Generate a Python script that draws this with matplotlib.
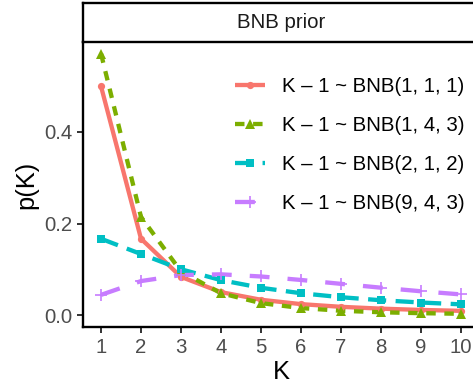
import matplotlib
matplotlib.use("Agg")
import matplotlib.pyplot as plt
from matplotlib.lines import Line2D

plt.rcParams['font.family'] = ['Liberation Sans', 'DejaVu Sans']

K = [1, 2, 3, 4, 5, 6, 7, 8, 9, 10]
labels = ["K \u2013 1 ~ BNB(1, 1, 1)", "K \u2013 1 ~ BNB(1, 4, 3)",
          "K \u2013 1 ~ BNB(2, 1, 2)", "K \u2013 1 ~ BNB(9, 4, 3)"]
p_111 = [0.5000, 0.1667, 0.0833, 0.0500, 0.0333, 0.0238, 0.0179, 0.0139, 0.0111, 0.0091]
p_143 = [0.5714, 0.2143, 0.0952, 0.0476, 0.0260, 0.0152, 0.0093, 0.0060, 0.0040, 0.0027]
p_212 = [0.1667, 0.1333, 0.1000, 0.0762, 0.0595, 0.0476, 0.0389, 0.0323, 0.0273, 0.0233]
p_943 = [0.0440, 0.0742, 0.0873, 0.0889, 0.0842, 0.0766, 0.0681, 0.0597, 0.0519, 0.0450]
series = [p_111, p_143, p_212, p_943]
x_ticks = [1, 2, 3, 4, 5, 6, 7, 8, 9, 10]
y_ticks = [0.0, 0.2, 0.4]
y_ticklabels = ["0.0", "0.2", "0.4"]
strip_title = "BNB prior"

colors = ["#F8766D", "#7CAE00", "#00BFC4", "#C77CFF"]
dashes = [(None, None), (2.2, 2.0), (4.2, 2.2), (4.6, 4.2)]
markers = ["o", "^", "s", "+"]
msizes = [5.2, 6.5, 5.2, 8.5]
lw = 3.1

W, H = 473, 389
fig = plt.figure(figsize=(W / 100, H / 100), dpi=100)
ax = fig.add_axes([83 / W, 62 / H, (479 - 83) / W, (327 - 42) / H])

for ys, c, d, m, ms in zip(series, colors, dashes, markers, msizes):
    ln, = ax.plot(K, ys, color=c, lw=lw, solid_capstyle='butt', dash_capstyle='butt')
    if d[0] is not None:
        ln.set_dashes(d)
for ys, c, m, ms in zip(series, colors, markers, msizes):
    ax.plot(K, ys, linestyle='none', marker=m, color=c, markersize=ms,
            markeredgewidth=1.2 if m == '+' else 0)

ax.set_xlim(0.55, 10.45)
ax.set_ylim(-0.0262, 0.5967)
ax.set_xticks(x_ticks)
ax.set_xticklabels([str(k) for k in x_ticks])
ax.set_yticks(y_ticks)
ax.set_yticklabels(y_ticklabels)
for s in ['top', 'right']:
    ax.spines[s].set_visible(False)
for s in ['left', 'bottom']:
    ax.spines[s].set_linewidth(1.7)
    ax.spines[s].set_color('black')
ax.tick_params(axis='both', length=4.3, width=1.4, color='#333333',
               labelsize=14.7, labelcolor='#4D4D4D', pad=3.5)
ax.set_xlabel("K", fontsize=18.4, color='black', labelpad=2)
ax.set_ylabel("p(K)", fontsize=18.4, color='black', labelpad=4)

handles = []
for c, d, m, ms in zip(colors, dashes, markers, msizes):
    h = Line2D([], [], color=c, lw=lw, marker=m, markersize=ms,
               markeredgewidth=1.2 if m == '+' else 0, solid_capstyle='butt',
               dash_capstyle='butt')
    if d[0] is not None:
        h.set_dashes(d)
    handles.append(h)
fig.legend(handles, labels, loc='upper left', bbox_to_anchor=(235 / W, 1 - 77 / H),
           frameon=False, fontsize=14.7, borderpad=0, borderaxespad=0,
           handlelength=1.46, handletextpad=0.85, labelspacing=0.98, numpoints=1)

# facet strip
sax = fig.add_axes([83 / W, (H - 42) / H, (479 - 83) / W, 39 / H])
sax.set_xticks([])
sax.set_yticks([])
sax.set_facecolor('white')
for s in sax.spines.values():
    s.set_linewidth(1.7)
    s.set_color('black')
sax.text(0.5, 0.5, strip_title, ha='center', va='center', fontsize=14.7,
         color='#1A1A1A', transform=sax.transAxes)

fig.savefig("out.png", dpi=100)
